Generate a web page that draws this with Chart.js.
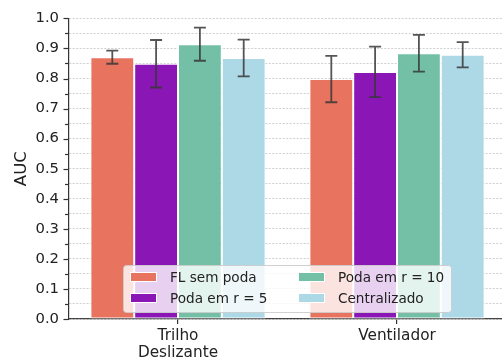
<!DOCTYPE html>
<html>
<head>
<meta charset="utf-8">
<script src="https://cdn.jsdelivr.net/npm/chart.js@4"></script>
<style>
  html, body { margin: 0; padding: 0; background: #fff; overflow: hidden; }
  #wrap { width: 502px; height: 358px; overflow: hidden; }
</style>
</head>
<body>
<div id="wrap"><canvas id="chart" width="510" height="358"></canvas></div>
<script>
const categories = [["Trilho", "Deslizante"], "Ventilador"];
const seriesNames = ["FL sem poda", "Poda em r = 5", "Poda em r = 10", "Centralizado"];
const seriesColors = ["#e8735f", "#8a17b5", "#74c0a6", "#add8e6"];

const flSemPoda = [0.871, 0.798];
const flSemPodaErr = [0.022, 0.077];
const podaR5 = [0.849, 0.822];
const podaR5Err = [0.079, 0.084];
const podaR10 = [0.914, 0.884];
const podaR10Err = [0.055, 0.061];
const centralizado = [0.868, 0.879];
const centralizadoErr = [0.061, 0.042];

const values = [flSemPoda, podaR5, podaR10, centralizado];
const errors = [flSemPodaErr, podaR5Err, podaR10Err, centralizadoErr];

const FONT = "'DejaVu Sans', sans-serif";

// error bars + y tick marks (major and minor)
const extras = {
  id: "extras",
  afterDatasetsDraw(chart) {
    const ctx = chart.ctx;
    const y = chart.scales.y;
    ctx.save();
    ctx.strokeStyle = "rgba(55,55,55,0.85)";
    ctx.lineWidth = 1.8;
    chart.data.datasets.forEach((ds, i) => {
      const meta = chart.getDatasetMeta(i);
      meta.data.forEach((bar, j) => {
        const v = ds.data[j], e = ds.errors[j];
        const top = y.getPixelForValue(v + e);
        const bot = y.getPixelForValue(v - e);
        ctx.beginPath();
        ctx.moveTo(bar.x, top); ctx.lineTo(bar.x, bot);
        ctx.moveTo(bar.x - 6, top); ctx.lineTo(bar.x + 6, top);
        ctx.moveTo(bar.x - 6, bot); ctx.lineTo(bar.x + 6, bot);
        ctx.stroke();
      });
    });
    ctx.strokeStyle = "#333";
    ctx.lineWidth = 1.2;
    for (let k = 0; k <= 20; k++) {
      const py = Math.round(y.getPixelForValue(k * 0.05)) + 0.5;
      const len = k % 2 === 0 ? 5 : 3.5;
      ctx.beginPath();
      ctx.moveTo(y.right - len, py); ctx.lineTo(y.right, py);
      ctx.stroke();
    }
    ctx.restore();
  },
  afterDraw(chart) {
    // legend box inside the plot, two columns
    const ctx = chart.ctx;
    const bx = 123, by = 265, bw = 328, bh = 47;
    ctx.save();
    ctx.fillStyle = "rgba(255,255,255,0.8)";
    ctx.strokeStyle = "rgba(204,204,204,0.9)";
    ctx.lineWidth = 1;
    ctx.beginPath();
    ctx.roundRect(bx + 0.5, by + 0.5, bw, bh, 3);
    ctx.fill();
    ctx.stroke();
    ctx.font = "13.6px " + FONT;
    ctx.textBaseline = "middle";
    const cols = [130, 298];
    const rows = [277, 298];
    seriesNames.forEach((name, i) => {
      const cx = cols[Math.floor(i / 2)];
      const cy = rows[i % 2];
      ctx.fillStyle = seriesColors[i];
      ctx.fillRect(cx, cy - 5, 27, 10);
      ctx.strokeStyle = "#fff";
      ctx.strokeRect(cx + 0.5, cy - 4.5, 26, 9);
      ctx.fillStyle = "#222";
      ctx.fillText(name, cx + 40, cy + 1);
    });
    ctx.restore();
  }
};

new Chart(document.getElementById("chart"), {
  type: "bar",
  data: {
    labels: categories,
    datasets: seriesNames.map((name, i) => ({
      label: name,
      data: values[i],
      errors: errors[i],
      backgroundColor: seriesColors[i],
      borderColor: "#fff",
      borderWidth: 1,
      borderSkipped: false,
      barPercentage: 1,
      categoryPercentage: 0.8
    }))
  },
  options: {
    responsive: false,
    animation: false,
    devicePixelRatio: 1,
    layout: { padding: { top: 18, right: 3.5, left: 0, bottom: 0 } },
    plugins: { legend: { display: false }, tooltip: { enabled: false } },
    scales: {
      x: {
        grid: { display: true, drawOnChartArea: false, offset: false, tickLength: 5, color: "#333", lineWidth: 1.2 },
        border: { color: "#444", width: 1.2 },
        ticks: { color: "#222", font: { family: FONT, size: 15.3, lineHeight: 1.1 }, padding: 4, maxRotation: 0 },
        afterFit(s) { s.height = 39; }
      },
      y: {
        min: 0,
        max: 1,
        grid: { color: "#c4c4c4", lineWidth: 0.8, drawTicks: false },
        border: { color: "#333", width: 1.2, dash: [2, 1.5] },
        ticks: {
          stepSize: 0.05,
          autoSkip: false,
          padding: 9.5,
          color: "#222",
          font: { family: FONT, size: 14.8 },
          callback: (v) => (Math.round(v * 100) % 10 === 0 ? v.toFixed(1) : "")
        },
        title: { display: true, text: "AUC", color: "#222", font: { family: FONT, size: 16.5 }, padding: { top: 11.5, bottom: 0 } },
        afterFit(s) { s.width = 68.5; }
      }
    }
  },
  plugins: [extras]
});
</script>
</body>
</html>
